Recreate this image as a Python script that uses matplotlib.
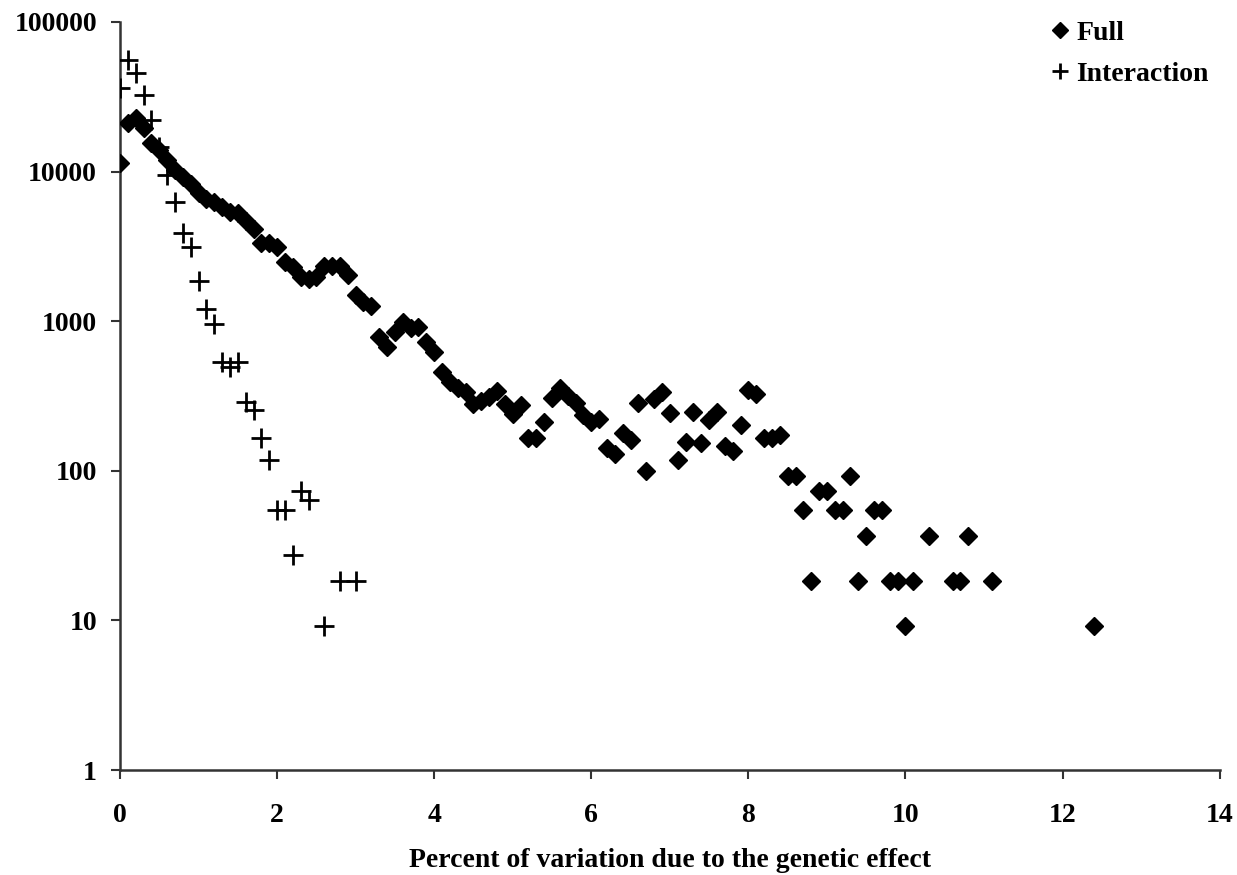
import matplotlib
matplotlib.use("Agg")
import matplotlib.pyplot as plt
from matplotlib.ticker import FixedLocator, NullLocator, FuncFormatter

# ── Data ────────────────────────────────────────────────────────────────────────
full_x = [0.0, 0.1, 0.2, 0.3, 0.4, 0.5, 0.6, 0.7, 0.8, 0.9,
          1.0, 1.1, 1.2, 1.3, 1.4, 1.5, 1.6, 1.7, 1.8, 1.9,
          2.0, 2.1, 2.2, 2.3, 2.4, 2.5, 2.6, 2.7, 2.8, 2.9,
          3.0, 3.1, 3.2, 3.3, 3.4, 3.5, 3.6, 3.7, 3.8, 3.9,
          4.0, 4.1, 4.2, 4.3, 4.4, 4.5, 4.6, 4.7, 4.8, 4.9,
          5.0, 5.1, 5.2, 5.3, 5.4, 5.5, 5.6, 5.7, 5.8, 5.9,
          6.0, 6.1, 6.2, 6.3, 6.4, 6.5, 6.6, 6.7, 6.8, 6.9,
          7.0, 7.1, 7.2, 7.3, 7.4, 7.5, 7.6, 7.7, 7.8, 7.9,
          8.0, 8.1, 8.2, 8.3, 8.4, 8.5, 8.6, 8.7, 8.8, 8.9,
          9.0, 9.1, 9.2, 9.3, 9.4, 9.5, 9.6, 9.7, 9.8, 9.9,
          10.0, 10.1, 10.3, 10.6, 10.7, 10.8, 11.1, 12.4]
full_y = [11400, 21100, 22800, 19500, 15500, 13900, 11900, 10300, 9200, 8260,
          7200, 6500, 6250, 5800, 5400, 5300, 4700, 4100, 3330, 3330,
          3150, 2490, 2300, 1970, 1900, 1970, 2350, 2350, 2350, 2040,
          1500, 1350, 1260, 783, 672, 840, 980, 900, 920, 725,
          620, 457, 390, 357, 335, 280, 293, 310, 343, 280,
          240, 275, 166, 166, 212, 307, 357, 316, 284, 236,
          212, 222, 142, 130, 179, 161, 284, 100, 300, 335,
          245, 118, 156, 247, 153, 218, 247, 147, 136, 202,
          347, 327, 166, 166, 173, 92, 92, 55, 18.4, 73,
          73, 55, 55, 92, 18.4, 36.7, 55, 55, 18.4, 18.4,
          9.2, 18.4, 36.7, 18.4, 18.4, 36.7, 18.4, 9.2]

inter_x = [0.0, 0.1, 0.2, 0.3, 0.4, 0.5, 0.6, 0.7, 0.8, 0.9,
           1.0, 1.1, 1.2, 1.3, 1.4, 1.5, 1.6, 1.7, 1.8, 1.9,
           2.0, 2.1, 2.2, 2.3, 2.4, 2.6, 2.8, 3.0]
inter_y = [36200, 55700, 45600, 32500, 22100, 14600, 9500, 6270, 3890, 3150,
           1860, 1200, 960, 534, 494, 534, 290, 255, 166, 118,
           55, 55, 27.5, 73, 64, 9.2, 18.4, 18.4]

x_ticks = [0, 2, 4, 6, 8, 10, 12, 14]
y_ticks = [1, 10, 100, 1000, 10000, 100000]

FONT = "Liberation Serif"
FSIZE = 20
plt.rcParams["font.family"] = [FONT, "DejaVu Serif"]
plt.rcParams["font.weight"] = "bold"

fig = plt.figure(figsize=(12.37, 8.75), dpi=100, facecolor="white")
ax = fig.add_axes([0.097, 0.12, 0.889, 0.855])

ax.plot(full_x, full_y, linestyle="none", marker="D", markersize=9.5,
        color="black", label="Full", zorder=3)
ax.plot(inter_x, inter_y, linestyle="none", marker="+", markersize=14,
        markeredgewidth=2, color="black", label="Interaction", zorder=4)

ax.set_yscale("log")
ax.set_xlim(0, 14)
ax.set_ylim(1, 100000)
ax.xaxis.set_major_locator(FixedLocator(x_ticks))
ax.yaxis.set_major_locator(FixedLocator(y_ticks))
ax.yaxis.set_minor_locator(NullLocator())
ax.yaxis.set_major_formatter(FuncFormatter(lambda v, _: f"{v:.0f}"))

for side in ("top", "right"):
    ax.spines[side].set_visible(False)
for side in ("left", "bottom"):
    ax.spines[side].set_color("#333333")
    ax.spines[side].set_linewidth(1.8)

ax.tick_params(axis="both", which="major", direction="out", length=6.5,
               width=1.5, color="#333333", labelsize=FSIZE)
ax.tick_params(axis="y", pad=10)
ax.tick_params(axis="x", pad=17)
for lbl in ax.get_xticklabels() + ax.get_yticklabels():
    lbl.set_fontweight("bold")

ax.set_xlabel("Percent of variation due to the genetic effect",
              fontsize=FSIZE, fontweight="bold", labelpad=15)

leg = ax.legend(loc="upper right", bbox_to_anchor=(1.013, 1.035), frameon=False,
                prop={"family": FONT, "weight": "bold", "size": FSIZE},
                handletextpad=0.15, labelspacing=0.55, handlelength=0.9,
                markerscale=0.85)

fig.savefig("out.png", dpi=100, facecolor="white")
